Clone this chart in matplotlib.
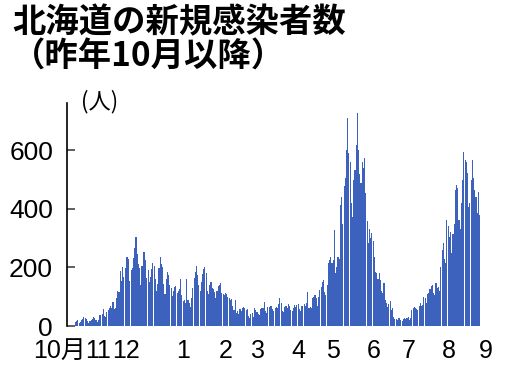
import numpy as np
import matplotlib.pyplot as plt

# daily new cases in Hokkaido, Oct 1 2020 - Aug 31 2021
oct_ = [12, 18, 20, 9, 14, 22, 25, 30, 28, 24, 16, 11, 18, 22, 25, 30, 27, 19, 13, 21,
        36, 38, 42, 58, 34, 30, 49, 53, 62, 70, 62]
nov = [81, 59, 61, 96, 119, 115, 187, 153, 200, 166, 197, 236, 235, 230, 153, 193, 197, 233,
       266, 304, 245, 213, 197, 141, 206, 254, 252, 224, 163, 192]
dec = [150, 168, 196, 214, 205, 160, 120, 145, 198, 237, 212, 200, 142, 110, 160, 185, 175,
       140, 130, 104, 120, 134, 138, 112, 118, 125, 160, 105, 85, 90, 78]
jan = [160, 90, 78, 65, 95, 130, 165, 185, 205, 175, 140, 120, 150, 178, 195, 200, 180, 120,
       110, 140, 150, 130, 128, 115, 95, 120, 138, 140, 148, 112, 110]
feb = [105, 112, 108, 98, 95, 88, 92, 70, 55, 89, 45, 50, 42, 58, 50, 62, 64, 60, 55, 58,
       35, 28, 40, 43, 30, 60, 55, 48]
mar = [40, 36, 58, 62, 60, 83, 52, 45, 66, 64, 68, 70, 58, 50, 62, 66, 60, 75, 95, 78,
       52, 48, 66, 70, 62, 74, 68, 55, 50, 60, 72]
apr = [65, 72, 76, 58, 52, 68, 70, 74, 70, 77, 117, 62, 66, 60, 95, 100, 106, 96, 70, 98,
       123, 133, 150, 157, 115, 105, 140, 214, 225, 237]
may = [214, 225, 328, 180, 200, 237, 230, 414, 440, 350, 480, 505, 600, 712, 590, 560, 420,
       373, 500, 533, 620, 727, 600, 520, 488, 560, 540, 573, 453, 360, 283]
jun = [330, 300, 317, 290, 237, 186, 180, 160, 182, 157, 120, 112, 146, 89, 80, 66, 75, 85,
       55, 60, 30, 24, 25, 20, 28, 26, 22, 18, 24, 26]
jul = [24, 26, 30, 22, 28, 55, 60, 66, 62, 58, 55, 70, 77, 68, 72, 100, 95, 80, 110, 112,
       128, 135, 140, 112, 105, 146, 130, 134, 120, 200, 260]
aug = [283, 230, 214, 362, 340, 305, 320, 250, 316, 350, 464, 482, 470, 362, 330, 420, 500,
       596, 567, 560, 522, 408, 420, 499, 567, 505, 464, 440, 385, 459, 380]

cases = oct_ + nov + dec + jan + feb + mar + apr + may + jun + jul + aug
days = np.arange(len(cases))

month_labels = ['10月', '11', '12', '1', '2', '3', '4', '5', '6', '7', '8', '9']
# label positions in days from Oct 1 (first three are squeezed together)
label_pos = [8.3, 19, 42, 89.3, 124, 151.2, 184.3, 213.2, 246.3, 275.2, 308.3, 338.8]
yticks = [0, 200, 400, 600]

num_font = ['Liberation Sans', 'Noto Sans CJK JP', 'DejaVu Sans']

fig = plt.figure(figsize=(5.17, 3.66), dpi=100)
ax = fig.add_axes([67/517, 1 - 326/366, 423/517, 223/366])

ax.bar(days, cases, width=0.9, color='#3d62bd', linewidth=0)

ax.set_xlim(-7, 342.6)
ax.set_ylim(0, 762)

for s in ['top', 'right', 'bottom']:
    ax.spines[s].set_visible(False)
ax.spines['left'].set_linewidth(1.2)

ax.set_yticks(yticks)
ax.set_yticklabels([str(v) for v in yticks], family=num_font, fontsize=19)
ax.tick_params(axis='y', direction='in', length=6, width=1.2, color='#444', pad=10)

ax.set_xticks(label_pos)
ax.set_xticklabels(month_labels, family=num_font, fontsize=18)
ax.get_xticklabels()[0].set_ha('right')
ax.tick_params(axis='x', length=0, pad=9)

fig.text(100/517, 1 - 102/366, '(人)', family=['Noto Sans CJK JP', 'DejaVu Sans'],
         fontsize=16, ha='center', va='center')

fig.text(12/517, 1 - 6/366, '北海道の新規感染者数', family=['Noto Sans CJK JP', 'DejaVu Sans'],
         fontsize=24, fontweight='bold', ha='left', va='top')
fig.text(12/517, 1 - 41/366, '（昨年10月以降）', family=['Noto Sans CJK JP', 'DejaVu Sans'],
         fontsize=24, fontweight='bold', ha='left', va='top')

fig.savefig('out.png', dpi=100)
